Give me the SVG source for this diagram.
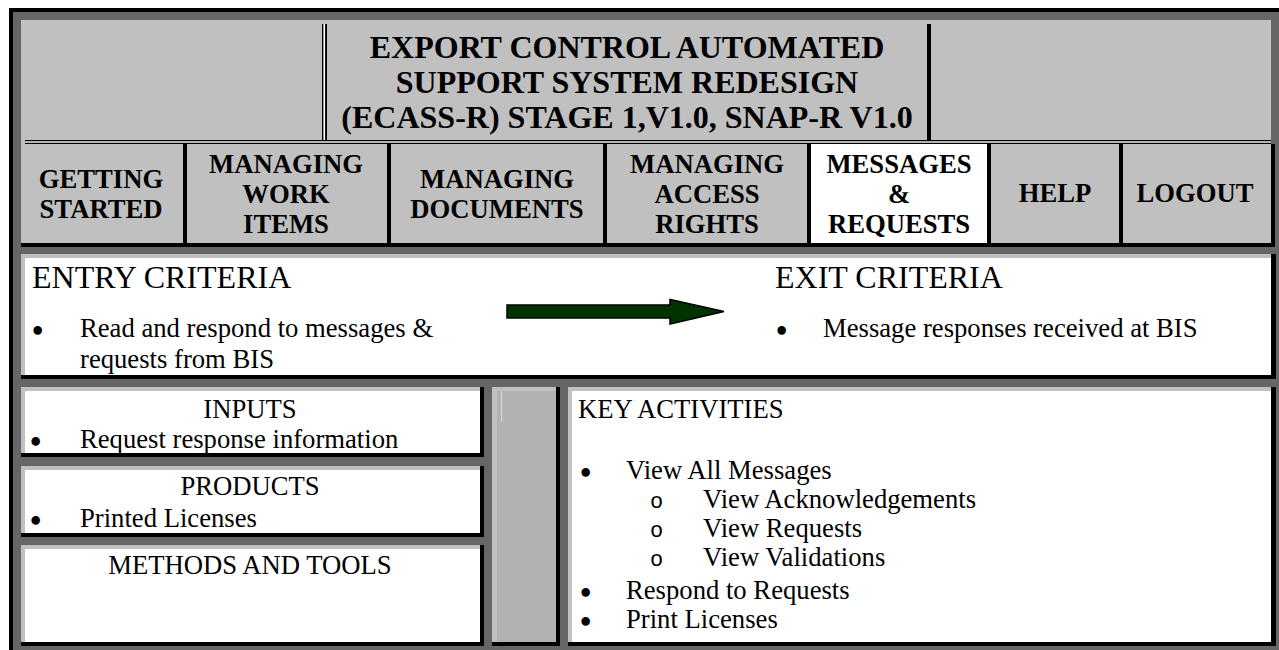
<svg xmlns="http://www.w3.org/2000/svg" width="1279" height="650" viewBox="0 0 1279 650">
<style>
.t{font-family:"Liberation Serif","Times New Roman",serif;fill:#000}
.nb{font-weight:bold;font-size:26.67px;text-anchor:middle}
.ti{font-weight:bold;font-size:32px;text-anchor:middle}
.h{font-size:32px}
.n{font-size:26.67px}
.c{text-anchor:middle}
.bu{font-family:"Liberation Serif","Times New Roman",serif;font-size:26.67px;fill:#000;stroke:#000;stroke-width:2.2px}
.o{font-family:"Liberation Mono","Courier New",monospace;font-size:22px;fill:#000}
.k{fill:#000}
.lg{fill:#c0c0c0}
.w{fill:#fff}
.col{fill:#b2b2b2}
</style>
<rect x="0" y="0" width="1279" height="650" fill="#fff"/>
<g id="frame">
<rect x="9" y="8" width="1270" height="642" class="k"/>
<rect x="13" y="12" width="1266" height="638" fill="#666"/>
</g>
<g id="header">
<rect x="21" y="20" width="1250" height="223" class="lg"/>
<rect x="322" y="24" width="5" height="120" class="k"/>
<rect x="323.4" y="24" width="1.7" height="116" class="w"/>
<rect x="25" y="140" width="1246" height="4" class="k"/>
<rect x="25" y="141.3" width="1246" height="1.4" class="w"/>
<rect x="927" y="24" width="4" height="116" class="k"/>
<g id="title">
<text class="t ti" x="627" y="58">EXPORT CONTROL AUTOMATED</text>
<text class="t ti" x="627" y="93">SUPPORT SYSTEM REDESIGN</text>
<text class="t ti" x="627" y="128">(ECASS-R) STAGE 1,V1.0, SNAP-R V1.0</text>
</g>
<rect x="811" y="144" width="176" height="99" class="w"/>
<rect x="183" y="144" width="4" height="99" class="k"/>
<rect x="387" y="144" width="4" height="99" class="k"/>
<rect x="603" y="144" width="4" height="99" class="k"/>
<rect x="807" y="144" width="4" height="99" class="k"/>
<rect x="987" y="144" width="4" height="99" class="k"/>
<rect x="1119" y="144" width="4" height="99" class="k"/>
<rect x="1271" y="144" width="4" height="103" class="k"/>
<rect x="21" y="243" width="1254" height="4" class="k"/>
</g>
<g id="nav-getting-started">
<text class="t nb" x="101" y="188">GETTING</text>
<text class="t nb" x="101" y="218">STARTED</text>
</g>
<g id="nav-managing-work-items">
<text class="t nb" x="286" y="173">MANAGING</text>
<text class="t nb" x="286" y="203">WORK</text>
<text class="t nb" x="286" y="233">ITEMS</text>
</g>
<g id="nav-managing-documents">
<text class="t nb" x="497" y="188">MANAGING</text>
<text class="t nb" x="497" y="218">DOCUMENTS</text>
</g>
<g id="nav-managing-access-rights">
<text class="t nb" x="707" y="173">MANAGING</text>
<text class="t nb" x="707" y="203">ACCESS</text>
<text class="t nb" x="707" y="233">RIGHTS</text>
</g>
<g id="nav-messages-requests">
<text class="t nb" x="899" y="173">MESSAGES</text>
<text class="t nb" x="899" y="203">&amp;</text>
<text class="t nb" x="899" y="233">REQUESTS</text>
</g>
<g id="nav-help">
<text class="t nb" x="1055" y="202">HELP</text>
</g>
<g id="nav-logout">
<text class="t nb" x="1195" y="202">LOGOUT</text>
</g>
<g id="criteria-box">
<rect x="21" y="254" width="1250" height="121" class="lg"/>
<rect x="25" y="258" width="1246" height="117" class="w"/>
<rect x="21" y="375" width="1255" height="4" class="k"/>
<rect x="1271" y="254" width="5" height="125" class="k"/>
</g>
<g id="entry-criteria">
<text class="t h" x="32" y="288">ENTRY CRITERIA</text>
<text class="bu" x="33" y="340">•</text>
<text class="t n" x="80" y="337">Read and respond to messages &amp;</text>
<text class="t n" x="80" y="368">requests from BIS</text>
</g>
<g id="exit-criteria">
<text class="t h" x="775" y="288">EXIT CRITERIA</text>
<text class="bu" x="777" y="340">•</text>
<text class="t n" x="823" y="337">Message responses received at BIS</text>
</g>
<g id="connectors">
<polygon points="507,305 670,305 670,299.5 724,311.5 670,324 670,318 507,318" fill="#003300" stroke="#000" stroke-width="1.5"/>
</g>
<g id="inputs">
<rect x="21" y="387" width="459" height="66" class="lg"/>
<rect x="25" y="391" width="455" height="62" class="w"/>
<rect x="480" y="387" width="4" height="70" class="k"/>
<rect x="21" y="453" width="463" height="4" class="k"/>
<text class="t n c" x="250" y="418">INPUTS</text>
<text class="bu" x="31" y="451">•</text>
<text class="t n" x="80" y="448">Request response information</text>
</g>
<g id="products">
<rect x="21" y="466" width="459" height="67" class="lg"/>
<rect x="25" y="470" width="455" height="63" class="w"/>
<rect x="480" y="466" width="4" height="71" class="k"/>
<rect x="21" y="533" width="463" height="4" class="k"/>
<text class="t n c" x="250" y="495">PRODUCTS</text>
<text class="bu" x="31" y="530">•</text>
<text class="t n" x="80" y="527">Printed Licenses</text>
</g>
<g id="methods">
<rect x="21" y="545" width="459" height="97" class="lg"/>
<rect x="25" y="549" width="455" height="93" class="w"/>
<rect x="480" y="545" width="4" height="101" class="k"/>
<rect x="21" y="642" width="463" height="4" class="k"/>
<text class="t n c" x="250" y="574">METHODS AND TOOLS</text>
</g>
<g id="spacer-column">
<rect x="492" y="387" width="64" height="255" class="lg"/>
<rect x="497" y="391" width="59" height="251" class="col"/>
<line x1="501.5" y1="391" x2="501.5" y2="422" stroke="#d8d8d8" stroke-width="1"/>
<rect x="556" y="387" width="4" height="259" class="k"/>
<rect x="492" y="642" width="68" height="4" class="k"/>
</g>
<g id="key-activities">
<rect x="568" y="387" width="703" height="255" class="lg"/>
<rect x="572" y="391" width="699" height="251" class="w"/>
<rect x="1271" y="387" width="5" height="259" class="k"/>
<rect x="568" y="642" width="708" height="4" class="k"/>
<text class="t n" x="578" y="418">KEY ACTIVITIES</text>
<text class="bu" x="581" y="482">•</text>
<text class="t n" x="626" y="479">View All Messages</text>
<text class="o" x="650" y="508">o</text>
<text class="t n" x="703" y="508">View Acknowledgements</text>
<text class="o" x="650" y="537">o</text>
<text class="t n" x="703" y="537">View Requests</text>
<text class="o" x="650" y="566">o</text>
<text class="t n" x="703" y="566">View Validations</text>
<text class="bu" x="581" y="602">•</text>
<text class="t n" x="626" y="599">Respond to Requests</text>
<text class="bu" x="581" y="631">•</text>
<text class="t n" x="626" y="628">Print Licenses</text>
</g>
</svg>
